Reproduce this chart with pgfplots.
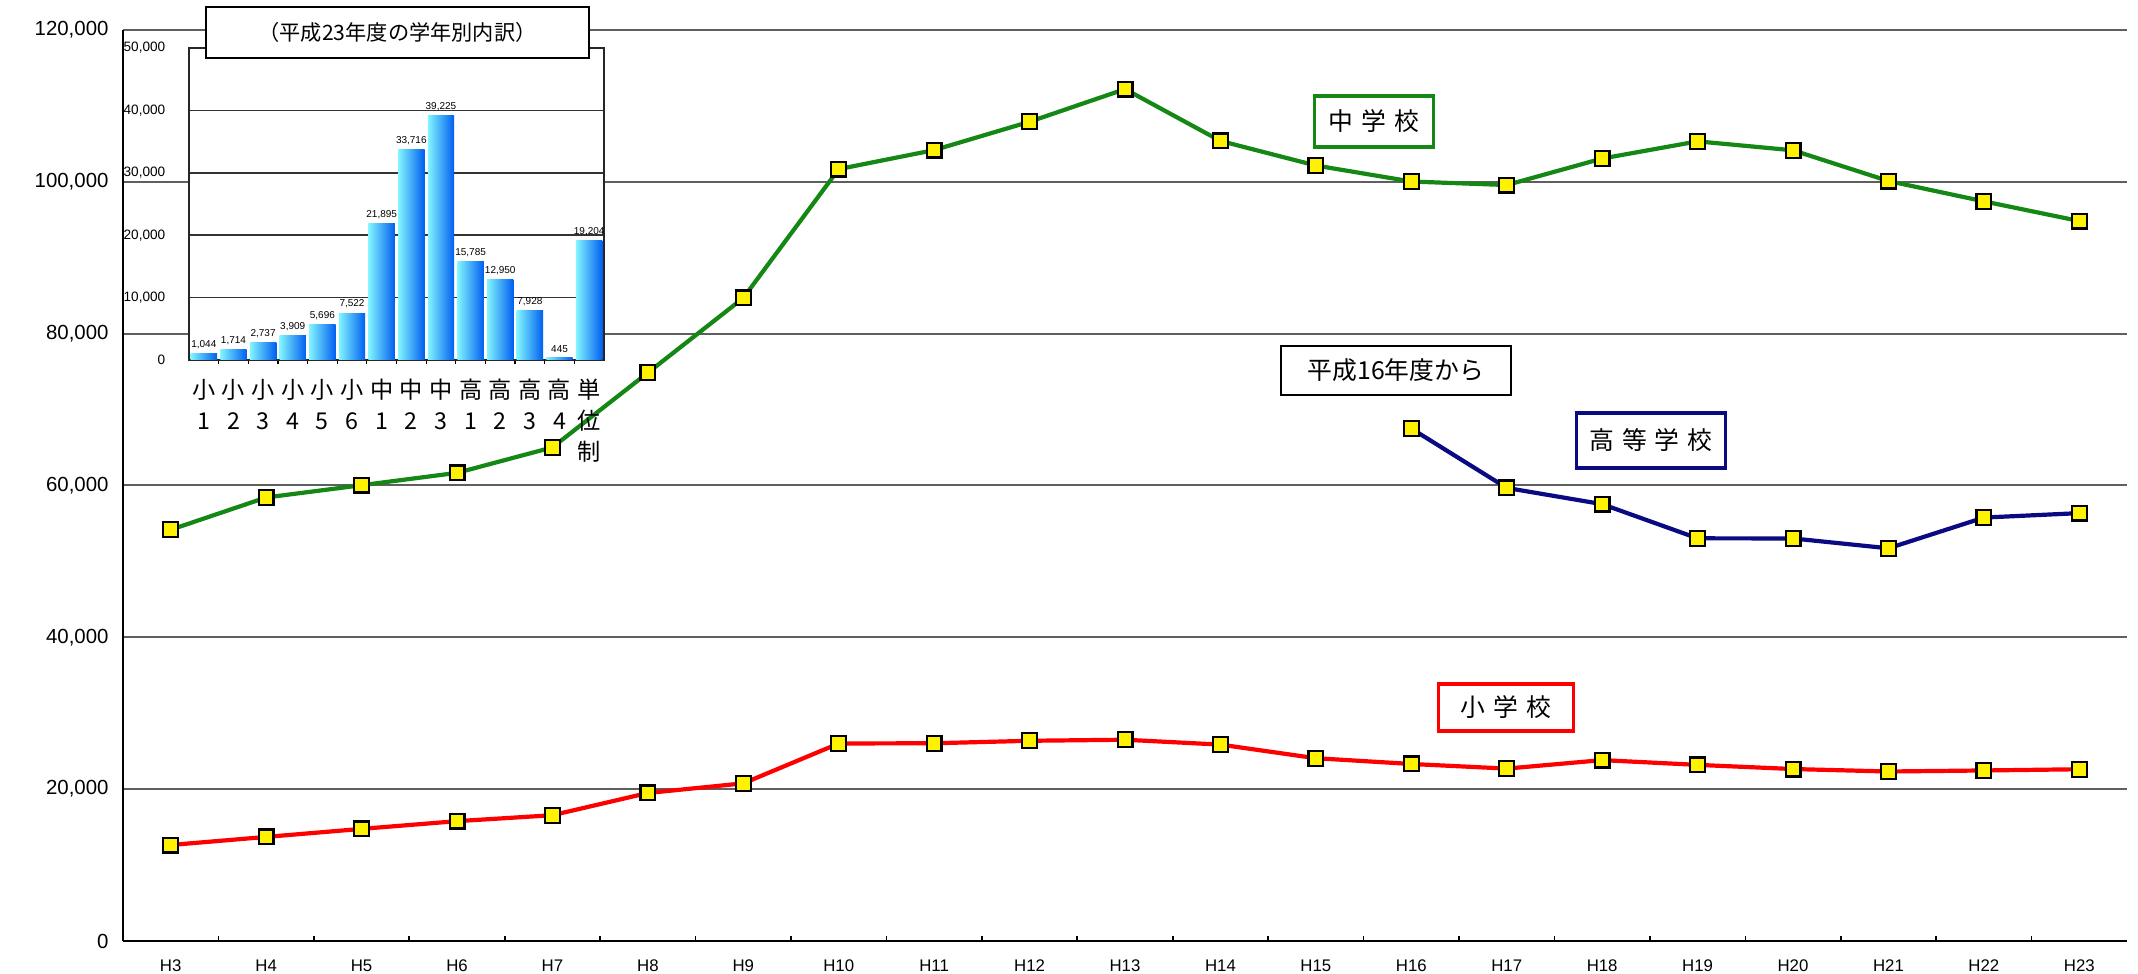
\documentclass[border=0pt]{standalone}
\usepackage{fontspec}
\setmainfont{Liberation Sans}
\newfontfamily\jp{Noto Sans CJK JP}
\usepackage{pgfplots}
\pgfplotsset{compat=1.18}

\definecolor{lgreen}{RGB}{20,135,20}
\definecolor{lred}{RGB}{255,0,0}
\definecolor{lnavy}{RGB}{10,10,130}
\definecolor{gridgray}{RGB}{95,95,95}
\definecolor{barL}{RGB}{130,245,255}
\definecolor{barM}{RGB}{0,205,255}
\definecolor{barR}{RGB}{0,95,240}

\newcommand{\numfmt}[1]{\pgfmathprintnumber[fixed,precision=0,1000 sep={,},assume math mode=true]{#1}}

\pgfplotsset{
  yellowmark/.style={mark=square*, mark size=1.85pt,
    mark options={fill=yellow, draw=black, line width=0.55pt, solid}},
  gbar/.style={draw=none, left color=barL, middle color=barM, right color=barR},
}

\begin{document}
\begin{tikzpicture}
\useasboundingbox (-30.75pt,-8pt) rectangle (503.75pt,235.25pt);

% main chart
\begin{axis}[
  at={(0,0)}, anchor=south west,
  scale only axis, width=501pt, height=227.75pt,
  xmin=-0.5, xmax=20.5, ymin=0, ymax=120000,
  axis x line*=bottom, axis y line*=left,
  axis line style={line width=0.6pt, black},
  xtick={0,...,20},
  xticklabels={H3,H4,H5,H6,H7,H8,H9,H10,H11,H12,H13,H14,H15,H16,H17,H18,H19,H20,H21,H22,H23},
  major x tick style={draw=none},
  minor xtick={0.5,1.5,...,19.5},
  minor tick length=1.2pt,
  minor x tick style={black, line width=0.4pt},
  ytick={0,20000,...,120000},
  ytick style={draw=none},
  ymajorgrids, grid style={gridgray, line width=0.5pt},
  scaled y ticks=false,
  yticklabel={\numfmt{\tick}},
  yticklabel style={font=\fontsize{5.1}{6}\selectfont, xshift=-0.1pt},
  xticklabel style={font=\fontsize{4.2}{5}\selectfont, yshift=-1.2pt},
  clip=false,
]
% 中学校
\addplot[lgreen, line width=1.05pt, yellowmark] coordinates {
  (0,54172) (1,58421) (2,60039) (3,61663) (4,65022) (5,74853) (6,84701)
  (7,101675) (8,104180) (9,107913) (10,112211) (11,105383) (12,102149)
  (13,100040) (14,99578) (15,103069) (16,105328) (17,104153) (18,100105)
  (19,97428) (20,94836)
};
% 高等学校 (H16-)
\addplot[lnavy, line width=1.05pt, yellowmark] coordinates {
  (13,67500) (14,59680) (15,57544) (16,53041) (17,53024) (18,51728)
  (19,55776) (20,56361)
};
% 小学校
\addplot[lred, line width=1.05pt, yellowmark] coordinates {
  (0,12645) (1,13710) (2,14769) (3,15786) (4,16569) (5,19498) (6,20765)
  (7,26017) (8,26047) (9,26373) (10,26511) (11,25869) (12,24077)
  (13,23318) (14,22709) (15,23825) (16,23200) (17,22652) (18,22327)
  (19,22463) (20,22622)
};

\node[draw=lgreen, line width=0.8pt, minimum width=29.75pt, minimum height=12.75pt,
  inner sep=0pt, font=\jp\fontsize{6.2}{7}\selectfont]
  at (axis cs:12.61,107944) {中\hspace{2pt}学\hspace{2pt}校};
\node[draw=black, line width=0.7pt, minimum width=57.5pt, minimum height=12.25pt,
  inner sep=0pt, font=\jp\fontsize{6.2}{7}\selectfont]
  at (axis cs:12.84,75147) {平成16年度から};
\node[draw=lnavy, line width=0.8pt, minimum width=37.25pt, minimum height=13.75pt,
  inner sep=0pt, font=\jp\fontsize{6.2}{7}\selectfont]
  at (axis cs:15.51,65928) {高\hspace{2pt}等\hspace{2pt}学\hspace{2pt}校};
\node[draw=lred, line width=0.8pt, minimum width=33.75pt, minimum height=11.75pt,
  inner sep=0pt, font=\jp\fontsize{6.2}{7}\selectfont]
  at (axis cs:13.99,30757) {小\hspace{2pt}学\hspace{2pt}校};
\end{axis}

% inset: H23 breakdown by grade
\begin{axis}[
  at={(16.5pt,145.25pt)}, anchor=south west,
  scale only axis, width=103.75pt, height=78pt,
  axis background/.style={fill=white},
  axis line style={line width=0.4pt, black!85},
  xmin=-0.5, xmax=13.5, ymin=0, ymax=50000,
  ybar, bar width=6.6pt, bar shift=0pt,
  xtick={0,...,13},
  xticklabels={{小\\1},{小\\2},{小\\3},{小\\4},{小\\5},{小\\6},{中\\1},{中\\2},{中\\3},{高\\1},{高\\2},{高\\3},{高\\4},{単\\位\\制}},
  xticklabel style={align=center, font=\jp\fontsize{5.8}{7.75}\selectfont, yshift=3pt},
  major x tick style={draw=none},
  minor xtick={0.5,1.5,...,12.5},
  minor tick length=1pt,
  minor x tick style={black, line width=0.3pt},
  ytick={0,10000,...,50000},
  ytick style={draw=none},
  ymajorgrids, grid style={black!80, line width=0.4pt},
  scaled y ticks=false,
  yticklabel={\numfmt{\tick}},
  yticklabel style={font=\fontsize{3.4}{4}\selectfont, xshift=-2.4pt},
  nodes near coords={\numfmt{\pgfplotspointmeta}},
  nodes near coords style={font=\fontsize{2.5}{3}\selectfont, inner sep=1pt},
]
\addplot[gbar] coordinates {(0,1044)};
\addplot[gbar] coordinates {(1,1714)};
\addplot[gbar] coordinates {(2,2737)};
\addplot[gbar] coordinates {(3,3909)};
\addplot[gbar] coordinates {(4,5696)};
\addplot[gbar] coordinates {(5,7522)};
\addplot[gbar] coordinates {(6,21895)};
\addplot[gbar] coordinates {(7,33716)};
\addplot[gbar] coordinates {(8,39225)};
\addplot[gbar] coordinates {(9,15785)};
\addplot[gbar] coordinates {(10,12950)};
\addplot[gbar] coordinates {(11,7928)};
\addplot[gbar] coordinates {(12,445)};
\addplot[gbar] coordinates {(13,19204)};
\end{axis}

\node[draw=black, line width=0.6pt, fill=white, minimum width=95.75pt, minimum height=12.75pt,
  inner sep=0pt, font=\jp\fontsize{5.3}{6}\selectfont]
  at (68.625pt,227.125pt) {（平成23年度の学年別内訳）};
\end{tikzpicture}
\end{document}
